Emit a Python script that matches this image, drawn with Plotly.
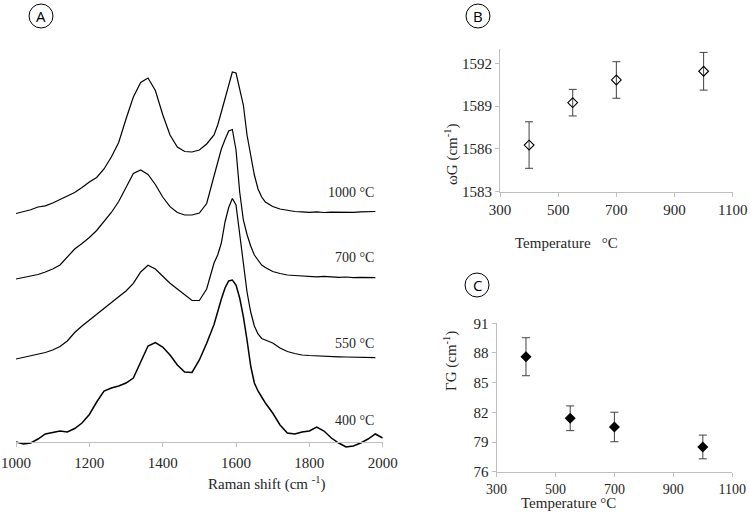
import plotly.graph_objects as go

# ---------------- data ----------------
wavenumber = [1000, 1020, 1040, 1060, 1080, 1100, 1120, 1140, 1160, 1180,
              1200, 1220, 1240, 1260, 1280, 1300, 1320, 1340, 1360, 1380,
              1400, 1420, 1440, 1460, 1480, 1500, 1520, 1540,
              1550, 1560, 1570, 1580, 1590, 1600, 1610, 1620, 1630, 1640,
              1650, 1660, 1670, 1680,
              1700, 1720, 1740, 1760, 1780, 1800, 1820, 1840, 1860, 1880,
              1900, 1920, 1940, 1960, 1980, 2000]

spec_1000 = [2.285, 2.305, 2.322, 2.350, 2.362, 2.390, 2.425, 2.455, 2.495, 2.545,
             2.600, 2.645, 2.730, 2.850, 2.995, 3.230, 3.450, 3.595, 3.640, 3.515,
             3.275, 3.070, 2.950, 2.905, 2.900, 2.920, 2.980, 3.070,
             3.170, 3.300, 3.430, 3.580, 3.700, 3.690, 3.540, 3.370, 3.070, 2.850,
             2.670, 2.530, 2.450, 2.400,
             2.355, 2.330, 2.315, 2.305, 2.302, 2.297, 2.302, 2.295, 2.298, 2.296,
             2.301, 2.297, 2.302, 2.303, 2.305, None]

spec_700 = [1.630, 1.645, 1.660, 1.675, 1.700, 1.730, 1.770, 1.850, 1.930, 1.985,
            2.045, 2.115, 2.200, 2.295, 2.405, 2.540, 2.685, 2.720, 2.675, 2.575,
            2.450, 2.353, 2.295, 2.270, 2.270, 2.290, 2.385, 2.660,
            2.790, 2.930, 3.025, 3.110, 3.125, 2.920, 2.500, 2.220, 2.075, 1.960,
            1.870, 1.820, 1.770, 1.745,
            1.705, 1.685, 1.670, 1.665, 1.660, 1.657, 1.652, 1.656, 1.650, 1.647,
            1.650, 1.644, 1.647, 1.642, 1.643, None]

spec_550 = [0.830, 0.845, 0.860, 0.875, 0.895, 0.920, 0.955, 1.010, 1.095, 1.160,
            1.220, 1.280, 1.340, 1.397, 1.452, 1.510, 1.587, 1.700, 1.768, 1.730,
            1.660, 1.587, 1.530, 1.475, 1.415, 1.415, 1.530, 1.790,
            1.870, 1.990, 2.200, 2.345, 2.435, 2.370, 2.080, 1.770, 1.500, 1.300,
            1.160, 1.080, 1.035, 1.020,
            0.990, 0.940, 0.905, 0.885, 0.870, 0.865, 0.860, 0.857, 0.854, 0.852,
            0.850, 0.848, 0.847, 0.845, 0.844, None]

spec_400 = [0.000, -0.020, -0.010, 0.030, 0.080, 0.095, 0.110, 0.100, 0.135, 0.190,
            0.275, 0.400, 0.510, 0.540, 0.560, 0.590, 0.640, 0.800, 0.960, 0.995,
            0.950, 0.870, 0.770, 0.700, 0.695, 0.820, 0.987, 1.175,
            1.310, 1.430, 1.540, 1.610, 1.620, 1.570, 1.440, 1.253, 1.020, 0.760,
            0.590, 0.510, 0.450, 0.390,
            0.290, 0.170, 0.090, 0.080, 0.100, 0.110, 0.150, 0.110, 0.040, -0.010,
            -0.050, -0.040, -0.010, 0.030, 0.080, 0.040]

spectra_labels = ["1000 °C", "700 °C", "550 °C", "400 °C"]
raman_ticks = [1000, 1200, 1400, 1600, 1800, 2000]

temperature = [400, 550, 700, 1000]
omega_G = [1586.27, 1589.24, 1590.83, 1591.44]
omega_G_err = [1.63, 0.93, 1.28, 1.32]
gamma_G = [87.62, 81.40, 80.52, 78.50]
gamma_G_err = [1.92, 1.25, 1.49, 1.20]
temp_ticks = [300, 500, 700, 900, 1100]
omega_ticks = [1583, 1586, 1589, 1592]
gamma_ticks = [76, 79, 82, 85, 88, 91]

# ---------------- figure ----------------
W, H = 750, 520
def px(x):
    return x / W
def py(y):
    return 1 - y / H

SERIF = "Liberation Serif"
TXT = "#262626"
AX = "#bfbfbf"

fig = go.Figure()

for spec, lw in [(spec_1000, 1.2), (spec_700, 1.2), (spec_550, 1.2), (spec_400, 1.5)]:
    fig.add_trace(go.Scatter(x=wavenumber, y=spec, mode="lines",
                             line=dict(color="black", width=lw),
                             connectgaps=False, xaxis="x", yaxis="y",
                             hoverinfo="skip"))

err_style = dict(type="data", color="#404040", thickness=1, width=4)
fig.add_trace(go.Scatter(x=temperature, y=omega_G, mode="markers",
                         error_y=dict(array=omega_G_err, **err_style),
                         marker=dict(symbol="diamond-open", size=7.5, color="black",
                                     line=dict(width=1.1, color="black")),
                         xaxis="x2", yaxis="y2"))
fig.add_trace(go.Scatter(x=temperature, y=gamma_G, mode="markers",
                         error_y=dict(array=gamma_G_err, **err_style),
                         marker=dict(symbol="diamond", size=8.5, color="black"),
                         xaxis="x3", yaxis="y3"))

axis_common = dict(showline=True, linecolor=AX, linewidth=1, ticks="outside",
                   ticklen=4, tickcolor=AX, showgrid=False, zeroline=False,
                   automargin=False)
tf15 = dict(family=SERIF, size=15, color=TXT)
tf14 = dict(family=SERIF, size=14, color=TXT)

fig.update_layout(
    width=W, height=H, margin=dict(l=0, r=0, t=0, b=0, pad=0, autoexpand=False),
    paper_bgcolor="white", plot_bgcolor="white", showlegend=False,
    xaxis=dict(domain=[px(16), px(382.7)], range=[1000, 2000], tickvals=raman_ticks,
               anchor="free", position=py(441.7), ticklabelstandoff=3,
               tickfont=tf15, **axis_common),
    yaxis=dict(domain=[py(455), py(40)], range=[-0.13, 4.02], visible=False,
               anchor="x", automargin=False),
    xaxis2=dict(domain=[px(500), px(732.7)], range=[300, 1100], tickvals=temp_ticks,
                anchor="y2", tickfont=tf15, **axis_common),
    yaxis2=dict(domain=[py(191.7), py(49)], range=[1583, 1593], tickvals=omega_ticks,
                anchor="x2", tickfont=tf15, **axis_common),
    xaxis3=dict(domain=[px(496.5), px(732.3)], range=[300, 1100], tickvals=temp_ticks,
                anchor="y3", tickfont=tf14, **axis_common),
    yaxis3=dict(domain=[py(471.7), py(323.3)], range=[76, 91], tickvals=gamma_ticks,
                anchor="x3", tickfont=tf15, **axis_common),
)

annots = []
# spectra labels
for lab, yy in zip(spectra_labels, [192.7, 257.3, 343.3, 420]):
    annots.append(dict(text=lab, x=px(376), y=py(yy), xref="paper", yref="paper",
                       xanchor="right", yanchor="middle", showarrow=False,
                       font=tf14))
# axis titles
annots.append(dict(text="Raman shift (cm <sup>-1</sup>)", x=px(206), y=py(495),
                   xref="paper", yref="paper", showarrow=False, font=tf15))
annots.append(dict(text="Temperature   °C", x=px(620), y=py(243),
                   xref="paper", yref="paper", showarrow=False, font=tf15))
annots.append(dict(text="ωG (cm<sup>-1</sup>)", x=px(451), y=py(121),
                   xref="paper", yref="paper", showarrow=False, textangle=-90,
                   font=tf15))
annots.append(dict(text="Temperature °C", x=px(618), y=py(512.5),
                   xref="paper", yref="paper", showarrow=False, font=tf15))
annots.append(dict(text="ΓG (cm<sup>-1</sup>)", x=px(450), y=py(393),
                   xref="paper", yref="paper", showarrow=False, textangle=-90,
                   font=tf15))

shapes = []
for letter, cx, cy in [("A", 41, 16), ("B", 478, 16), ("C", 477, 285)]:
    r = 12
    shapes.append(dict(type="circle", xref="paper", yref="paper",
                       x0=px(cx - r), x1=px(cx + r), y0=py(cy + r), y1=py(cy - r),
                       line=dict(color="black", width=1)))
    annots.append(dict(text=letter, x=px(cx), y=py(cy), xref="paper", yref="paper",
                       showarrow=False, xanchor="center", yanchor="middle",
                       font=dict(family="Open Sans", size=15, color="black")))

fig.update_layout(annotations=annots, shapes=shapes)
fig.write_html("out.html", config={"displayModeBar": False},
               post_script="document.body.style.margin='0px';document.body.style.overflow='hidden';")
